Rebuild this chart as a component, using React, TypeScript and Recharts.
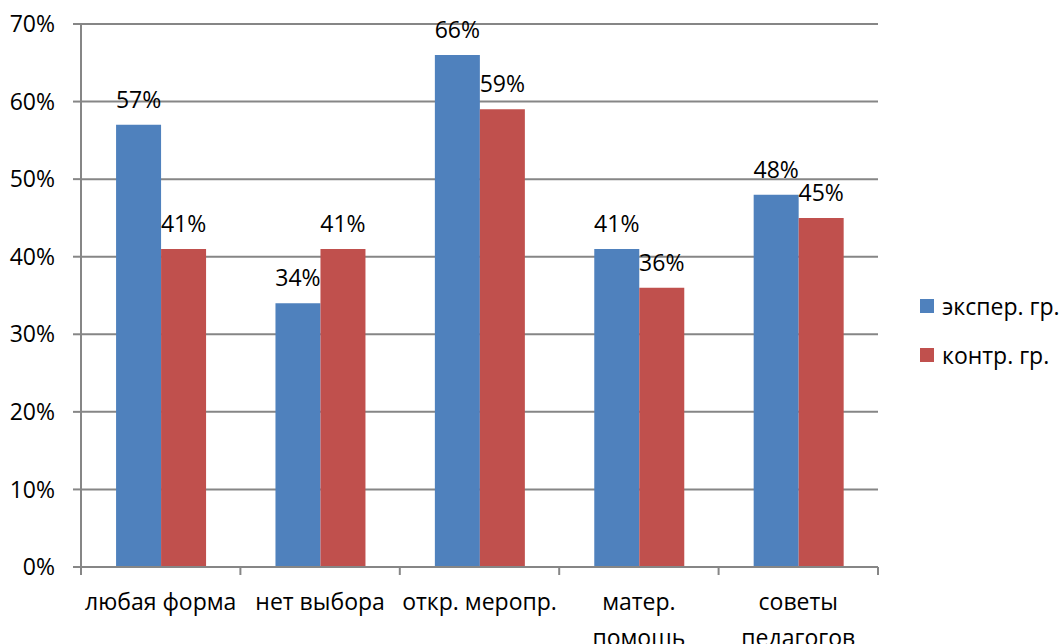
import React from "react";
import { BarChart, Bar, XAxis, YAxis, CartesianGrid, LabelList } from "recharts";

const categories = ["любая форма", "нет выбора", "откр. меропр.", "матер. помощь", "советы педагогов"];
const tickLines = [["любая форма"], ["нет выбора"], ["откр. меропр."], ["матер.", "помощь"], ["советы", "педагогов"]];
const experValues = [57, 34, 66, 41, 48];
const controlValues = [41, 41, 59, 36, 45];
const yTicks = [0, 10, 20, 30, 40, 50, 60, 70];
const seriesNames = ["экспер. гр.", "контр. гр."];

const BLUE = "#4F81BD";
const RED = "#C0504D";
const GRID = "#868686";
const FONT = "'Open Sans', sans-serif";
const FS = 23;

const data = categories.map((name, i) => ({
  name,
  exper: experValues[i],
  control: controlValues[i],
}));

function CategoryTick(props: any) {
  const { x, y, payload, index } = props;
  const half = payload.offset ?? 79.7;
  const lines = tickLines[index] || [payload.value];
  return (
    <g>
      <line x1={x - half} y1={y} x2={x - half} y2={y + 8} stroke={GRID} strokeWidth={2} />
      {index === categories.length - 1 && (
        <line x1={x + half} y1={y} x2={x + half} y2={y + 8} stroke={GRID} strokeWidth={2} />
      )}
      <text x={x} y={y + 43} textAnchor="middle" fill="#000" fontSize={FS} fontFamily={FONT}>
        {lines.map((l: string, i: number) => (
          <tspan key={i} x={x} dy={i === 0 ? 0 : 36}>
            {l}
          </tspan>
        ))}
      </text>
    </g>
  );
}

function LegendBox() {
  const colors = [BLUE, RED];
  return (
    <div
      style={{
        position: "absolute",
        left: 920,
        top: 292,
        fontFamily: FONT,
        fontSize: FS,
        color: "#000",
        whiteSpace: "nowrap",
      }}
    >
      {seriesNames.map((n, i) => (
        <div key={n} style={{ display: "flex", alignItems: "center", height: 28, marginBottom: i === 0 ? 21 : 0 }}>
          <span style={{ width: 14, height: 14, background: colors[i], display: "inline-block", marginRight: 8 }} />
          <span>{n}</span>
        </div>
      ))}
    </div>
  );
}

export default function App() {
  return (
    <div style={{ position: "relative", width: 1063, height: 644, background: "#fff", overflow: "hidden" }}>
      <style>{`body{margin:0}`}</style>
      <BarChart
        width={1063}
        height={644}
        data={data}
        margin={{ top: 24, right: 185, left: 0, bottom: 0 }}
        barCategoryGap="22%"
        barGap={0}
      >
        <CartesianGrid vertical={false} stroke={GRID} strokeWidth={2} />
        <XAxis
          dataKey="name"
          height={77}
          axisLine={{ stroke: GRID, strokeWidth: 2 }}
          tickLine={false}
          tickSize={0}
          tickMargin={0}
          interval={0}
          tick={<CategoryTick />}
        />
        <YAxis
          width={81}
          domain={[0, 70]}
          ticks={yTicks}
          tickFormatter={(v) => `${v}%`}
          axisLine={{ stroke: GRID, strokeWidth: 2 }}
          tickLine={{ stroke: GRID, strokeWidth: 2 }}
          tickSize={8}
          tickMargin={18}
          tick={{ fill: "#000", fontSize: FS, fontFamily: FONT }}
        />
        <Bar dataKey="exper" name={seriesNames[0]} fill={BLUE} isAnimationActive={false}>
          <LabelList
            dataKey="exper"
            position="top"
            offset={17}
            formatter={(v: any) => `${v}%`}
            style={{ fill: "#000", fontSize: FS, fontFamily: FONT }}
          />
        </Bar>
        <Bar dataKey="control" name={seriesNames[1]} fill={RED} isAnimationActive={false}>
          <LabelList
            dataKey="control"
            position="top"
            offset={17}
            formatter={(v: any) => `${v}%`}
            style={{ fill: "#000", fontSize: FS, fontFamily: FONT }}
          />
        </Bar>
      </BarChart>
      <LegendBox />
    </div>
  );
}
